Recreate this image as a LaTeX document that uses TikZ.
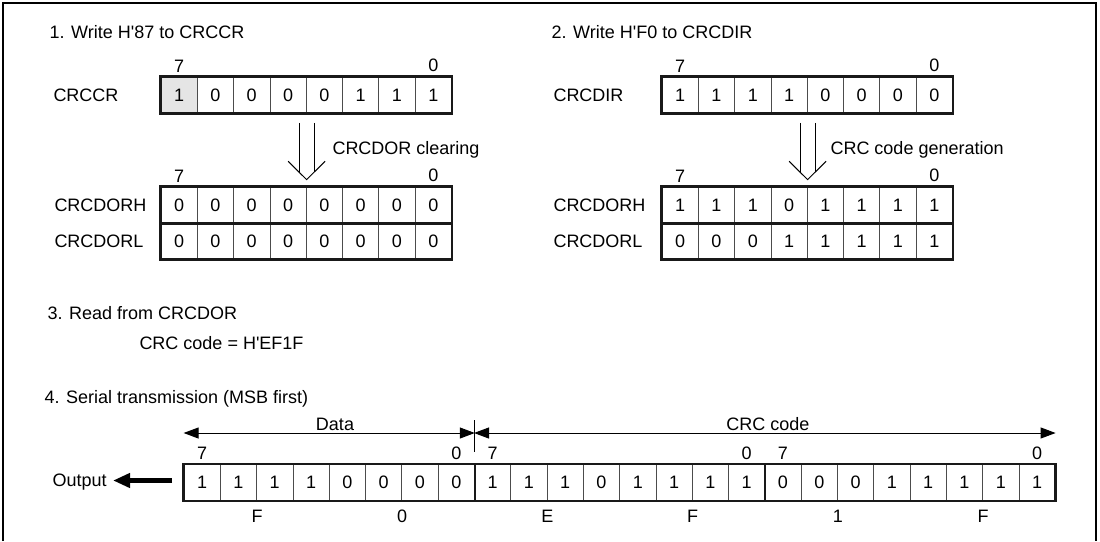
\documentclass[tikz,border=0pt]{standalone}
\usepackage{fontspec}
\setmainfont{Liberation Sans}
\usetikzlibrary{arrows.meta, positioning}

\begin{document}
\begin{tikzpicture}[x=1pt, y=-1pt, line width=1pt, >={Triangle[length=15pt,width=11pt]},
                every node/.style={font=\fontsize{18}{22}\selectfont},
                txt/.style={anchor=base west, inner sep=0pt},
                bitcell/.style={draw=black!70, line width=0.8pt, minimum width=36.3pt, minimum height=36pt, inner sep=0pt},
                regframe/.style={draw=black!90, line width=2.5pt},
                bitno/.style={inner sep=0pt},
                nibble/.style={inner sep=0pt},
                outarrow/.style={line width=4.5pt, -{Triangle[length=17pt,width=14pt]}}
            ]
            \useasboundingbox (0,0) rectangle (1100,541);

            % Outer frame
            \draw[line width=2.5pt] (3,541) -- (3,3) -- (1096,3) -- (1096,541);

            % 1. CRCCR
            \node[txt] (step1) at (49,38.5) {1. Write H\textquotesingle 87 to CRCCR};
            \node[txt] (ccrlbl) at (53,101.5) {CRCCR};
            \fill[black!10] (161,77) rectangle (197.3,113);
            \foreach \b [count=\i from 0] in {1,0,0,0,0,1,1,1}
                \node[bitcell] (ccr\i) at (179.15+\i*36.3, 95) {\b};
            \draw[regframe] (ccr0.north west) rectangle (ccr7.south east);
            \node[bitno, above=4pt of ccr0] (ccr7no) {7};
            \node[bitno, above=4pt of ccr7] (ccr0no) {0};

            % CRCDOR cleared
            \node[txt] (clrhlbl) at (54,211.5) {CRCDORH};
            \node[txt] (clrllbl) at (54,247.5) {CRCDORL};
            \foreach \i in {0,...,7} {
                \node[bitcell] (clrh\i) at (179.15+\i*36.3, 205) {0};
                \node[bitcell] (clrl\i) at (179.15+\i*36.3, 241) {0};
            }
            \draw[regframe] (clrh0.north west) rectangle (clrl7.south east);
            \draw[regframe] (clrh0.south west) -- (clrh7.south east);
            \node[bitno, above=4pt of clrh0] (clrh7no) {7};
            \node[bitno, above=4pt of clrh7] (clrh0no) {0};

            % Clearing arrow
            \coordinate (clrtip) at ([yshift=7pt]clrh3.north east);
            \draw ([xshift=-18.5pt,yshift=18.3pt]clrtip) -- (clrtip) -- ([xshift=18.5pt,yshift=18.3pt]clrtip);
            \draw ([xshift=-7.5pt,yshift=-9.5pt]ccr3.south east) -- ([xshift=-7.5pt,yshift=7.4pt]clrtip);
            \draw ([xshift=7.5pt,yshift=-9.5pt]ccr3.south east) -- ([xshift=7.5pt,yshift=7.4pt]clrtip);
            \node[txt] (clrtxt) at (332,154.5) {CRCDOR clearing};

            % 2. CRCDIR
            \node[txt] (step2) at (551,38.5) {2. Write H\textquotesingle F0 to CRCDIR};
            \node[txt] (dirlbl) at (553,101.5) {CRCDIR};
            \foreach \b [count=\i from 0] in {1,1,1,1,0,0,0,0}
                \node[bitcell] (dir\i) at (680.15+\i*36.3, 95) {\b};
            \draw[regframe] (dir0.north west) rectangle (dir7.south east);
            \node[bitno, above=4pt of dir0] (dir7no) {7};
            \node[bitno, above=4pt of dir7] (dir0no) {0};

            % CRCDOR generated
            \node[txt] (genhlbl) at (553,211.5) {CRCDORH};
            \node[txt] (genllbl) at (553,247.5) {CRCDORL};
            \foreach \b [count=\i from 0] in {1,1,1,0,1,1,1,1}
                \node[bitcell] (genh\i) at (680.15+\i*36.3, 205) {\b};
            \foreach \b [count=\i from 0] in {0,0,0,1,1,1,1,1}
                \node[bitcell] (genl\i) at (680.15+\i*36.3, 241) {\b};
            \draw[regframe] (genh0.north west) rectangle (genl7.south east);
            \draw[regframe] (genh0.south west) -- (genh7.south east);
            \node[bitno, above=4pt of genh0] (genh7no) {7};
            \node[bitno, above=4pt of genh7] (genh0no) {0};

            % Generation arrow
            \coordinate (gentip) at ([yshift=7pt]genh3.north east);
            \draw ([xshift=-18.5pt,yshift=18.3pt]gentip) -- (gentip) -- ([xshift=18.5pt,yshift=18.3pt]gentip);
            \draw ([xshift=-7.5pt,yshift=-9.5pt]dir3.south east) -- ([xshift=-7.5pt,yshift=7.4pt]gentip);
            \draw ([xshift=7.5pt,yshift=-9.5pt]dir3.south east) -- ([xshift=7.5pt,yshift=7.4pt]gentip);
            \node[txt] (gentxt) at (830,154.5) {CRC code generation};

            % 3. Read
            \node[txt] (step3) at (47,319.5) {3. Read from CRCDOR};
            \node[txt] (crcval) at (139,349.5) {CRC code = H\textquotesingle EF1F};

            % 4. Serial transmission
            \node[txt] (step4) at (44,403.5) {4. Serial transmission (MSB first)};
            \foreach \b [count=\i from 0] in {1,1,1,1,0,0,0,0,1,1,1,0,1,1,1,1,0,0,0,1,1,1,\raisebox{-4pt}{1},1}
                \node[bitcell] (s\i) at (202.15+\i*36.3, 482.5) {\b};
            \draw[regframe] (s0.north west) rectangle (s23.south east);
            \draw[regframe] (s7.north east) -- (s7.south east);
            \draw[regframe] (s15.north east) -- (s15.south east);
            \node[bitno, above=4pt of s0] (s7no) {7};
            \node[bitno, above=4pt of s7] (s0no) {0};
            \node[bitno, above=4pt of s8] (c7no) {7};
            \node[bitno, above=4pt of s15] (c0no) {0};
            \node[bitno, above=4pt of s16] (d7no) {7};
            \node[bitno, above=4pt of s23] (d0no) {0};

            % Data / CRC code ranges
            \draw[<->] (s0.west |- 0,433) -- (s7.east |- 0,433);
            \draw[<->] (s8.west |- 0,433) -- (s23.east |- 0,433);
            \draw ([yshift=12.5pt]s7.north east) -- ([yshift=44.5pt]s7.north east);
            \node[anchor=base, inner sep=0pt] (datalbl) at (335,430.5) {Data};
            \node[anchor=base, inner sep=0pt] (crclbl) at (768,430.5) {CRC code};

            % Nibbles
            \node[nibble, below=9pt of s1.south east] (n1) {F};
            \node[nibble, below=9pt of s5.south east] (n2) {0};
            \node[nibble, below=9pt of s9.south east] (n3) {E};
            \node[nibble, below=9pt of s13.south east] (n4) {F};
            \node[nibble, below=9pt of s17.south east] (n5) {1};
            \node[nibble, below=9pt of s21.south east] (n6) {F};

            % Output
            \node[txt] (out) at (52,486.5) {Output};
            \coordinate (outtail) at (172,480.5);
            \draw[outarrow] (outtail) -- ([xshift=6pt]out.east |- outtail);

        \end{tikzpicture}
\end{document}
